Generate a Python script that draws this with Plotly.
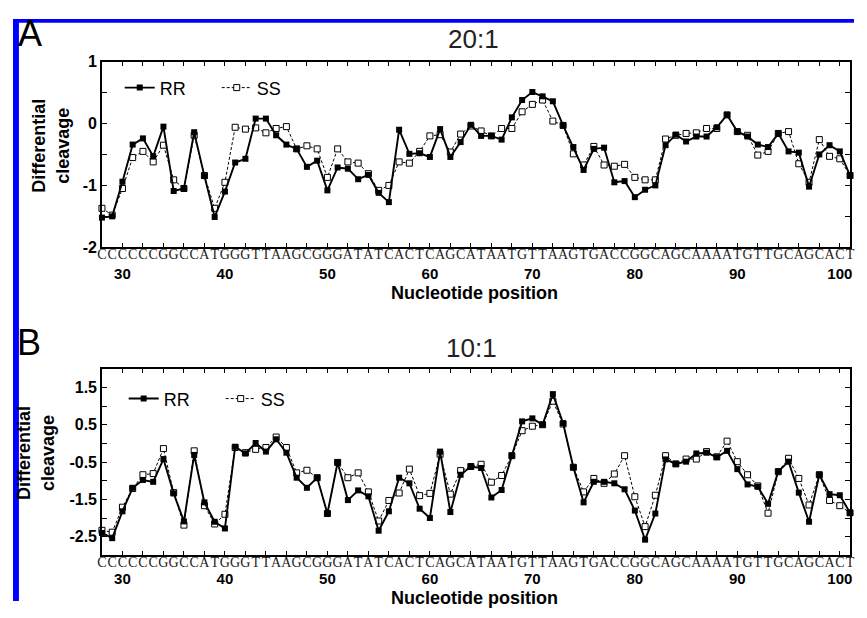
import plotly.graph_objects as go

# ---------------- data ----------------
positions = list(range(28, 102))
sequence = list("CCCCCCGGCCATGGGTTAAGCGGGATATCACTCAGCATAATGTTAAGTGACCGGCAGCAAAATGTTGCAGCACT")

rr_20 = [-1.52, -1.50, -0.94, -0.34, -0.24, -0.53, -0.05, -1.09, -1.05, -0.14,
         -0.85, -1.51, -1.10, -0.63, -0.57, 0.08, 0.08, -0.19, -0.34, -0.41,
         -0.70, -0.60, -1.08, -0.71, -0.73, -0.90, -0.83, -1.12, -1.27, -0.10,
         -0.49, -0.48, -0.54, -0.09, -0.54, -0.30, -0.02, -0.20, -0.20, -0.26,
         0.10, 0.38, 0.51, 0.44, 0.36, -0.03, -0.38, -0.75, -0.41, -0.39,
         -0.95, -0.93, -1.19, -1.07, -1.00, -0.35, -0.18, -0.29, -0.21, -0.21,
         -0.06, 0.14, -0.13, -0.21, -0.34, -0.38, -0.16, -0.45, -0.47, -1.02,
         -0.50, -0.35, -0.45, -0.84]
ss_20 = [-1.37, -1.48, -1.05, -0.55, -0.45, -0.62, -0.35, -0.91, -1.05, -0.19,
         -0.84, -1.37, -0.95, -0.06, -0.09, -0.07, -0.15, -0.08, -0.05, -0.41,
         -0.36, -0.41, -0.87, -0.41, -0.62, -0.64, -0.81, -1.08, -1.00, -0.62,
         -0.64, -0.45, -0.20, -0.18, -0.46, -0.17, -0.04, -0.12, -0.20, -0.08,
         -0.08, 0.19, 0.31, 0.38, 0.04, -0.03, -0.49, -0.67, -0.37, -0.67,
         -0.69, -0.66, -0.87, -0.91, -0.91, -0.25, -0.19, -0.16, -0.15, -0.08,
         -0.08, 0.14, -0.13, -0.19, -0.51, -0.45, -0.16, -0.13, -0.65, -0.95,
         -0.26, -0.53, -0.57, -0.84]

rr_10 = [-2.40, -2.54, -1.82, -1.19, -0.98, -1.03, -0.42, -1.34, -2.09, -0.31,
         -1.58, -2.10, -2.28, -0.09, -0.27, 0.01, -0.22, 0.11, -0.25, -0.92,
         -1.19, -0.92, -1.88, -0.51, -1.52, -1.26, -1.42, -2.34, -1.82, -0.92,
         -1.07, -1.75, -2.00, -0.22, -1.84, -0.84, -0.62, -0.66, -1.45, -1.25,
         -0.33, 0.59, 0.67, 0.50, 1.32, 0.54, -0.64, -1.58, -1.03, -1.03,
         -1.07, -1.23, -1.80, -2.58, -1.88, -0.43, -0.55, -0.49, -0.27, -0.25,
         -0.37, -0.20, -0.69, -1.10, -1.16, -1.62, -0.75, -0.49, -1.32, -2.10,
         -0.84, -1.36, -1.39, -1.86]
ss_10 = [-2.33, -2.38, -1.71, -1.21, -0.84, -0.81, -0.14, -1.32, -2.19, -0.20,
         -1.67, -2.16, -1.90, -0.11, -0.25, -0.16, -0.11, 0.17, -0.11, -0.79,
         -0.72, -0.92, -1.88, -0.51, -0.92, -0.79, -1.30, -2.08, -1.53, -1.33,
         -0.69, -1.40, -1.34, -0.29, -1.36, -0.73, -0.62, -0.56, -1.04, -0.86,
         -0.33, 0.34, 0.46, 0.50, 1.13, 0.52, -0.64, -1.30, -0.94, -1.07,
         -0.82, -0.33, -1.43, -2.23, -1.39, -0.33, -0.55, -0.42, -0.42, -0.22,
         -0.36, 0.06, -0.49, -0.84, -1.14, -1.87, -0.76, -0.40, -0.94, -1.65,
         -0.84, -1.53, -1.67, -1.86]

x_tick_vals = [30, 40, 50, 60, 70, 80, 90, 100]
x_tick_text = ["30", "40", "50", "60", "70", "80", "90", "100"]
y_tick_vals_a = [-2, -1, 0, 1]
y_tick_text_a = ["-2", "-1", "0", "1"]
y_tick_vals_b = [-2.5, -1.5, -0.5, 0.5, 1.5]
y_tick_text_b = ["-2.5", "-1.5", "-0.5", "0.5", "1.5"]
panel_titles = ["20:1", "10:1"]
panel_letters = ["A", "B"]

# ---------------- layout helpers ----------------
# The page body keeps its default 8px margin, so the figure is 16px smaller
# than the window and all reference pixel positions are shifted by 8px.
PAGE_W, PAGE_H, BODY_M = 867, 618, 8
W, H = PAGE_W - 2 * BODY_M, PAGE_H - 2 * BODY_M
def fx(px):
    return (px - BODY_M) / W
def fy(py):
    return 1 - (py - BODY_M) / H

SANS = "Liberation Sans, Arial, sans-serif"
SERIF = "Liberation Serif, Times New Roman, serif"

fig = go.Figure()

# SS on the numbered axis, RR on the overlaid sequence axis (same range) so RR sits on top
def add_pair(rr, ss, xa_num, xa_seq, ya, leg):
    fig.add_trace(go.Scatter(
        x=positions, y=ss, name="SS", mode="lines+markers",
        xaxis=xa_num, yaxis=ya, legend=leg, legendrank=2, cliponaxis=False,
        line=dict(color="black", width=1, dash="3px,2px"),
        marker=dict(symbol="square", size=6, color="white",
                    line=dict(color="black", width=1))))
    fig.add_trace(go.Scatter(
        x=positions, y=rr, name="RR", mode="lines+markers",
        xaxis=xa_seq, yaxis=ya, legend=leg, legendrank=1, cliponaxis=False,
        line=dict(color="black", width=1.9),
        marker=dict(symbol="square", size=6, color="black",
                    line=dict(color="black", width=0))))

add_pair(rr_20, ss_20, "x", "x3", "y", "legend")
add_pair(rr_10, ss_10, "x2", "x4", "y2", "legend2")

x_dom = [fx(98), fx(855)]
def num_axis(standoff):
    return dict(
        domain=x_dom, range=[28, 101], tickmode="array",
        tickvals=x_tick_vals, ticktext=x_tick_text,
        ticks="inside", ticklen=5, tickwidth=1.2, tickcolor="black",
        minor=dict(tickmode="linear", tick0=28, dtick=2, ticks="inside",
                   ticklen=5, tickwidth=1.2, tickcolor="black", showgrid=False),
        showline=True, linewidth=1.5, linecolor="black", mirror="allticks",
        showgrid=False, zeroline=False, tickangle=0,
        tickfont=dict(family=SANS, size=15, color="black", weight="bold"),
        ticklabelstandoff=standoff,
    )
seq_axis = dict(
    range=[28, 101], tickmode="array", tickvals=positions, ticktext=sequence,
    ticks="", showline=False, showgrid=False, zeroline=False, tickangle=0,
    tickfont=dict(family=SERIF, size=14, color="#222"),
    ticklabelstandoff=-3,
)

def yax(dom, rng, tv, tt):
    return dict(
        domain=dom, range=rng, tickmode="array", tickvals=tv, ticktext=tt,
        ticks="inside", ticklen=5, tickwidth=1.2, tickcolor="black",
        minor=dict(tickmode="linear", tick0=0, dtick=0.5, ticks="inside",
                   ticklen=5, tickwidth=1.2, tickcolor="black", showgrid=False),
        showline=True, linewidth=1.5, linecolor="black", mirror="allticks",
        showgrid=False, zeroline=False,
        tickfont=dict(family=SANS, size=16, color="black", weight="bold"),
    )

fig.update_layout(
    width=W, height=H, margin=dict(l=0, r=0, t=0, b=0),
    paper_bgcolor="white", plot_bgcolor="white",
    xaxis=dict(num_axis(12), anchor="y"),
    xaxis2=dict(num_axis(9), anchor="y2"),
    xaxis3=dict(seq_axis, anchor="y", overlaying="x", side="bottom"),
    xaxis4=dict(seq_axis, anchor="y2", overlaying="x2", side="bottom"),
    yaxis=yax([fy(246), fy(55)], [-2, 1], y_tick_vals_a, y_tick_text_a),
    yaxis2=yax([fy(563), fy(371)], [-3, 2], y_tick_vals_b, y_tick_text_b),
    legend=dict(orientation="h", x=fx(116), y=fy(82), xanchor="left", yanchor="middle",
                bgcolor="rgba(0,0,0,0)", font=dict(family=SANS, size=18, color="black"),
                entrywidth=52, itemwidth=30),
    legend2=dict(orientation="h", x=fx(120), y=fy(402), xanchor="left", yanchor="middle",
                 bgcolor="rgba(0,0,0,0)", font=dict(family=SANS, size=18, color="black"),
                 entrywidth=52, itemwidth=30),
    showlegend=True,
)

ann = []
for letter, (px, py) in zip(panel_letters, [(25, 26), (24, 344)]):
    ann.append(dict(text=letter, x=fx(px), y=fy(py), xref="paper", yref="paper",
                    showarrow=False, xanchor="center", yanchor="middle",
                    font=dict(family=SANS, size=36, color="black")))
for title, (px, py) in zip(panel_titles, [(474, 32), (472, 350)]):
    ann.append(dict(text=title, x=fx(px), y=fy(py), xref="paper", yref="paper",
                    showarrow=False, xanchor="center", yanchor="middle",
                    font=dict(family=SANS, size=26, color="#222")))
for (px, py) in [(46, 142), (31, 458)]:
    ann.append(dict(text="Differential<br>cleavage", x=fx(px), y=fy(py),
                    xref="paper", yref="paper", showarrow=False, textangle=-90,
                    xanchor="center", yanchor="middle",
                    font=dict(family=SANS, size=18, color="black", weight="bold")))
for (px, py) in [(475, 293), (475, 607)]:
    ann.append(dict(text="Nucleotide position", x=fx(px), y=fy(py),
                    xref="paper", yref="paper", showarrow=False,
                    xanchor="center", yanchor="middle",
                    font=dict(family=SANS, size=18, color="black", weight="bold")))
fig.update_layout(annotations=ann)

fig.update_layout(shapes=[
    dict(type="rect", xref="paper", yref="paper", x0=fx(8), x1=fx(14), y0=0, y1=fy(11),
         fillcolor="#0000ff", line=dict(width=0), layer="above"),
    dict(type="rect", xref="paper", yref="paper", x0=fx(8), x1=1, y0=fy(15), y1=fy(11),
         fillcolor="#0000ff", line=dict(width=0), layer="above"),
])

fig.write_html("out.html", config={"displayModeBar": False})
